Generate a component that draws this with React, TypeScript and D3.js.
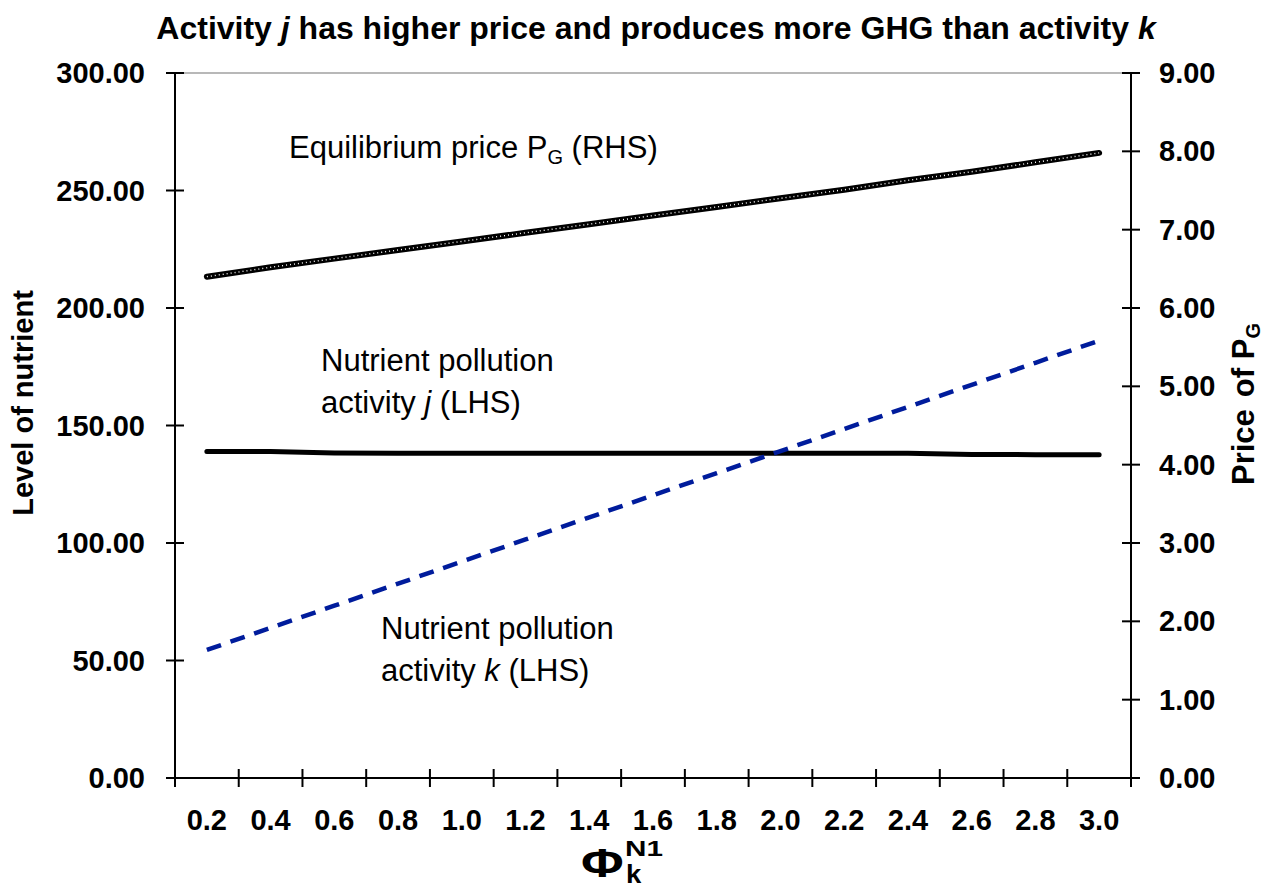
import React from 'react';
import * as d3 from 'd3';

// x categories (Phi_k^N1)
const phiValues = ['0.2', '0.4', '0.6', '0.8', '1.0', '1.2', '1.4', '1.6', '1.8', '2.0', '2.2', '2.4', '2.6', '2.8', '3.0'];
// Equilibrium price P_G (right axis)
const priceG = [6.40, 6.52, 6.63, 6.74, 6.85, 6.96, 7.07, 7.18, 7.29, 7.40, 7.51, 7.63, 7.74, 7.86, 7.98];
// Nutrient pollution activity j (left axis)
const nutrientJ = [138.9, 138.9, 138.3, 138.2, 138.2, 138.2, 138.2, 138.2, 138.2, 138.2, 138.2, 138.2, 137.7, 137.6, 137.6];
// Nutrient pollution activity k (left axis)
const nutrientK = [54.5, 63.9, 73.3, 82.7, 92.1, 101.5, 110.9, 120.3, 129.7, 139.1, 148.5, 157.9, 167.3, 176.7, 186.1];

const leftTicks = [0, 50, 100, 150, 200, 250, 300];
const rightTicks = [0, 1, 2, 3, 4, 5, 6, 7, 8, 9];

const width = 1279, height = 892;
const plot = {left: 175, right: 1131, top: 73, bottom: 778};
const font = 'Liberation Sans, Arial, sans-serif';
const tickSize = 29;

export default function App() {
    const x = d3.scaleBand().domain(phiValues).range([plot.left, plot.right]).padding(0);
    const yL = d3.scaleLinear().domain([0, 300]).range([plot.bottom, plot.top]);
    const yR = d3.scaleLinear().domain([0, 9]).range([plot.bottom, plot.top]);
    const cx = (i: number) => (x(phiValues[i]) as number) + x.bandwidth() / 2;

    const lineL = d3.line<number>().x((d, i) => cx(i)).y(d => yL(d));
    const lineR = d3.line<number>().x((d, i) => cx(i)).y(d => yR(d));

    const boundaries = phiValues.map(v => x(v) as number).concat([plot.right]);

    return (
        <svg width={width} height={height} style={{position: 'absolute', left: 0, top: 0, background: '#fff'}}
             fontFamily={font}>
            {/* title */}
            <text x={656} y={39} textAnchor="middle" fontSize={32} fontWeight="bold">
                Activity <tspan fontStyle="italic">j</tspan> has higher price and produces more GHG than activity <tspan fontStyle="italic">k</tspan>
            </text>

            {/* top frame */}
            <line x1={plot.left} x2={plot.right} y1={plot.top} y2={plot.top} stroke="#a0a0a0" strokeWidth={1.5}/>

            {/* left axis */}
            <line x1={plot.left} x2={plot.left} y1={plot.top} y2={plot.bottom} stroke="#000" strokeWidth={2}/>
            {leftTicks.map(t => (
                <g key={'l' + t}>
                    <line x1={plot.left - 9} x2={plot.left + 9} y1={yL(t)} y2={yL(t)} stroke="#000" strokeWidth={2}/>
                    <text x={145} y={yL(t) + 10} textAnchor="end" fontSize={tickSize} fontWeight="bold">{d3.format('.2f')(t)}</text>
                </g>
            ))}

            {/* right axis */}
            <line x1={plot.right} x2={plot.right} y1={plot.top} y2={plot.bottom} stroke="#000" strokeWidth={2}/>
            {rightTicks.map(t => (
                <g key={'r' + t}>
                    <line x1={plot.right - 9} x2={plot.right + 9} y1={yR(t)} y2={yR(t)} stroke="#000" strokeWidth={2}/>
                    <text x={1159} y={yR(t) + 10} textAnchor="start" fontSize={tickSize} fontWeight="bold">{d3.format('.2f')(t)}</text>
                </g>
            ))}

            {/* bottom axis */}
            <line x1={plot.left - 9} x2={plot.right + 9} y1={plot.bottom} y2={plot.bottom} stroke="#000" strokeWidth={2}/>
            {boundaries.map((b, i) => (
                <line key={'b' + i} x1={b} x2={b} y1={plot.bottom - 9} y2={plot.bottom + 9} stroke="#000" strokeWidth={2}/>
            ))}
            {phiValues.map((v, i) => (
                <text key={'x' + v} x={cx(i)} y={830} textAnchor="middle" fontSize={tickSize} fontWeight="bold">{v}</text>
            ))}

            {/* axis titles */}
            <text transform="translate(33,403) rotate(-90)" textAnchor="middle" fontSize={29} fontWeight="bold">Level of nutrient</text>
            <text transform="translate(1254,404) rotate(-90)" textAnchor="middle" fontSize={31} fontWeight="bold">
                Price<tspan dx={12}>of P</tspan><tspan fontSize={20} dy={6}>G</tspan>
            </text>
            <g fontWeight="bold">
                <text transform="translate(581,877) scale(1.3,1)" fontSize={40}>Φ</text>
                <text transform="translate(625,856) scale(1.35,1)" fontSize={22}>N1</text>
                <text transform="translate(626,883) scale(1.1,1)" fontSize={25}>k</text>
            </g>

            {/* series */}
            <path d={lineR(priceG) || ''} fill="none" stroke="#000" strokeWidth={6} strokeLinecap="round"/>
            <path d={lineR(priceG) || ''} fill="none" stroke="#fff" strokeWidth={1.4} strokeDasharray="1,3"/>
            <path d={lineL(nutrientJ) || ''} fill="none" stroke="#000" strokeWidth={5} strokeLinecap="round"/>
            <path d={lineL(nutrientK) || ''} fill="none" stroke="#001c9c" strokeWidth={4.5} strokeDasharray="15,10"/>

            {/* annotations */}
            <g fontSize={31}>
                <text x={289} y={158}>Equilibrium price P<tspan fontSize={20} dy={6}>G</tspan><tspan dy={-6}> (RHS)</tspan></text>
                <text x={321} y={371}>Nutrient pollution</text>
                <text x={321} y={413}>activity <tspan fontStyle="italic">j</tspan> (LHS)</text>
                <text x={381} y={639}>Nutrient pollution</text>
                <text x={381} y={681}>activity <tspan fontStyle="italic">k</tspan> (LHS)</text>
            </g>
        </svg>
    );
}
